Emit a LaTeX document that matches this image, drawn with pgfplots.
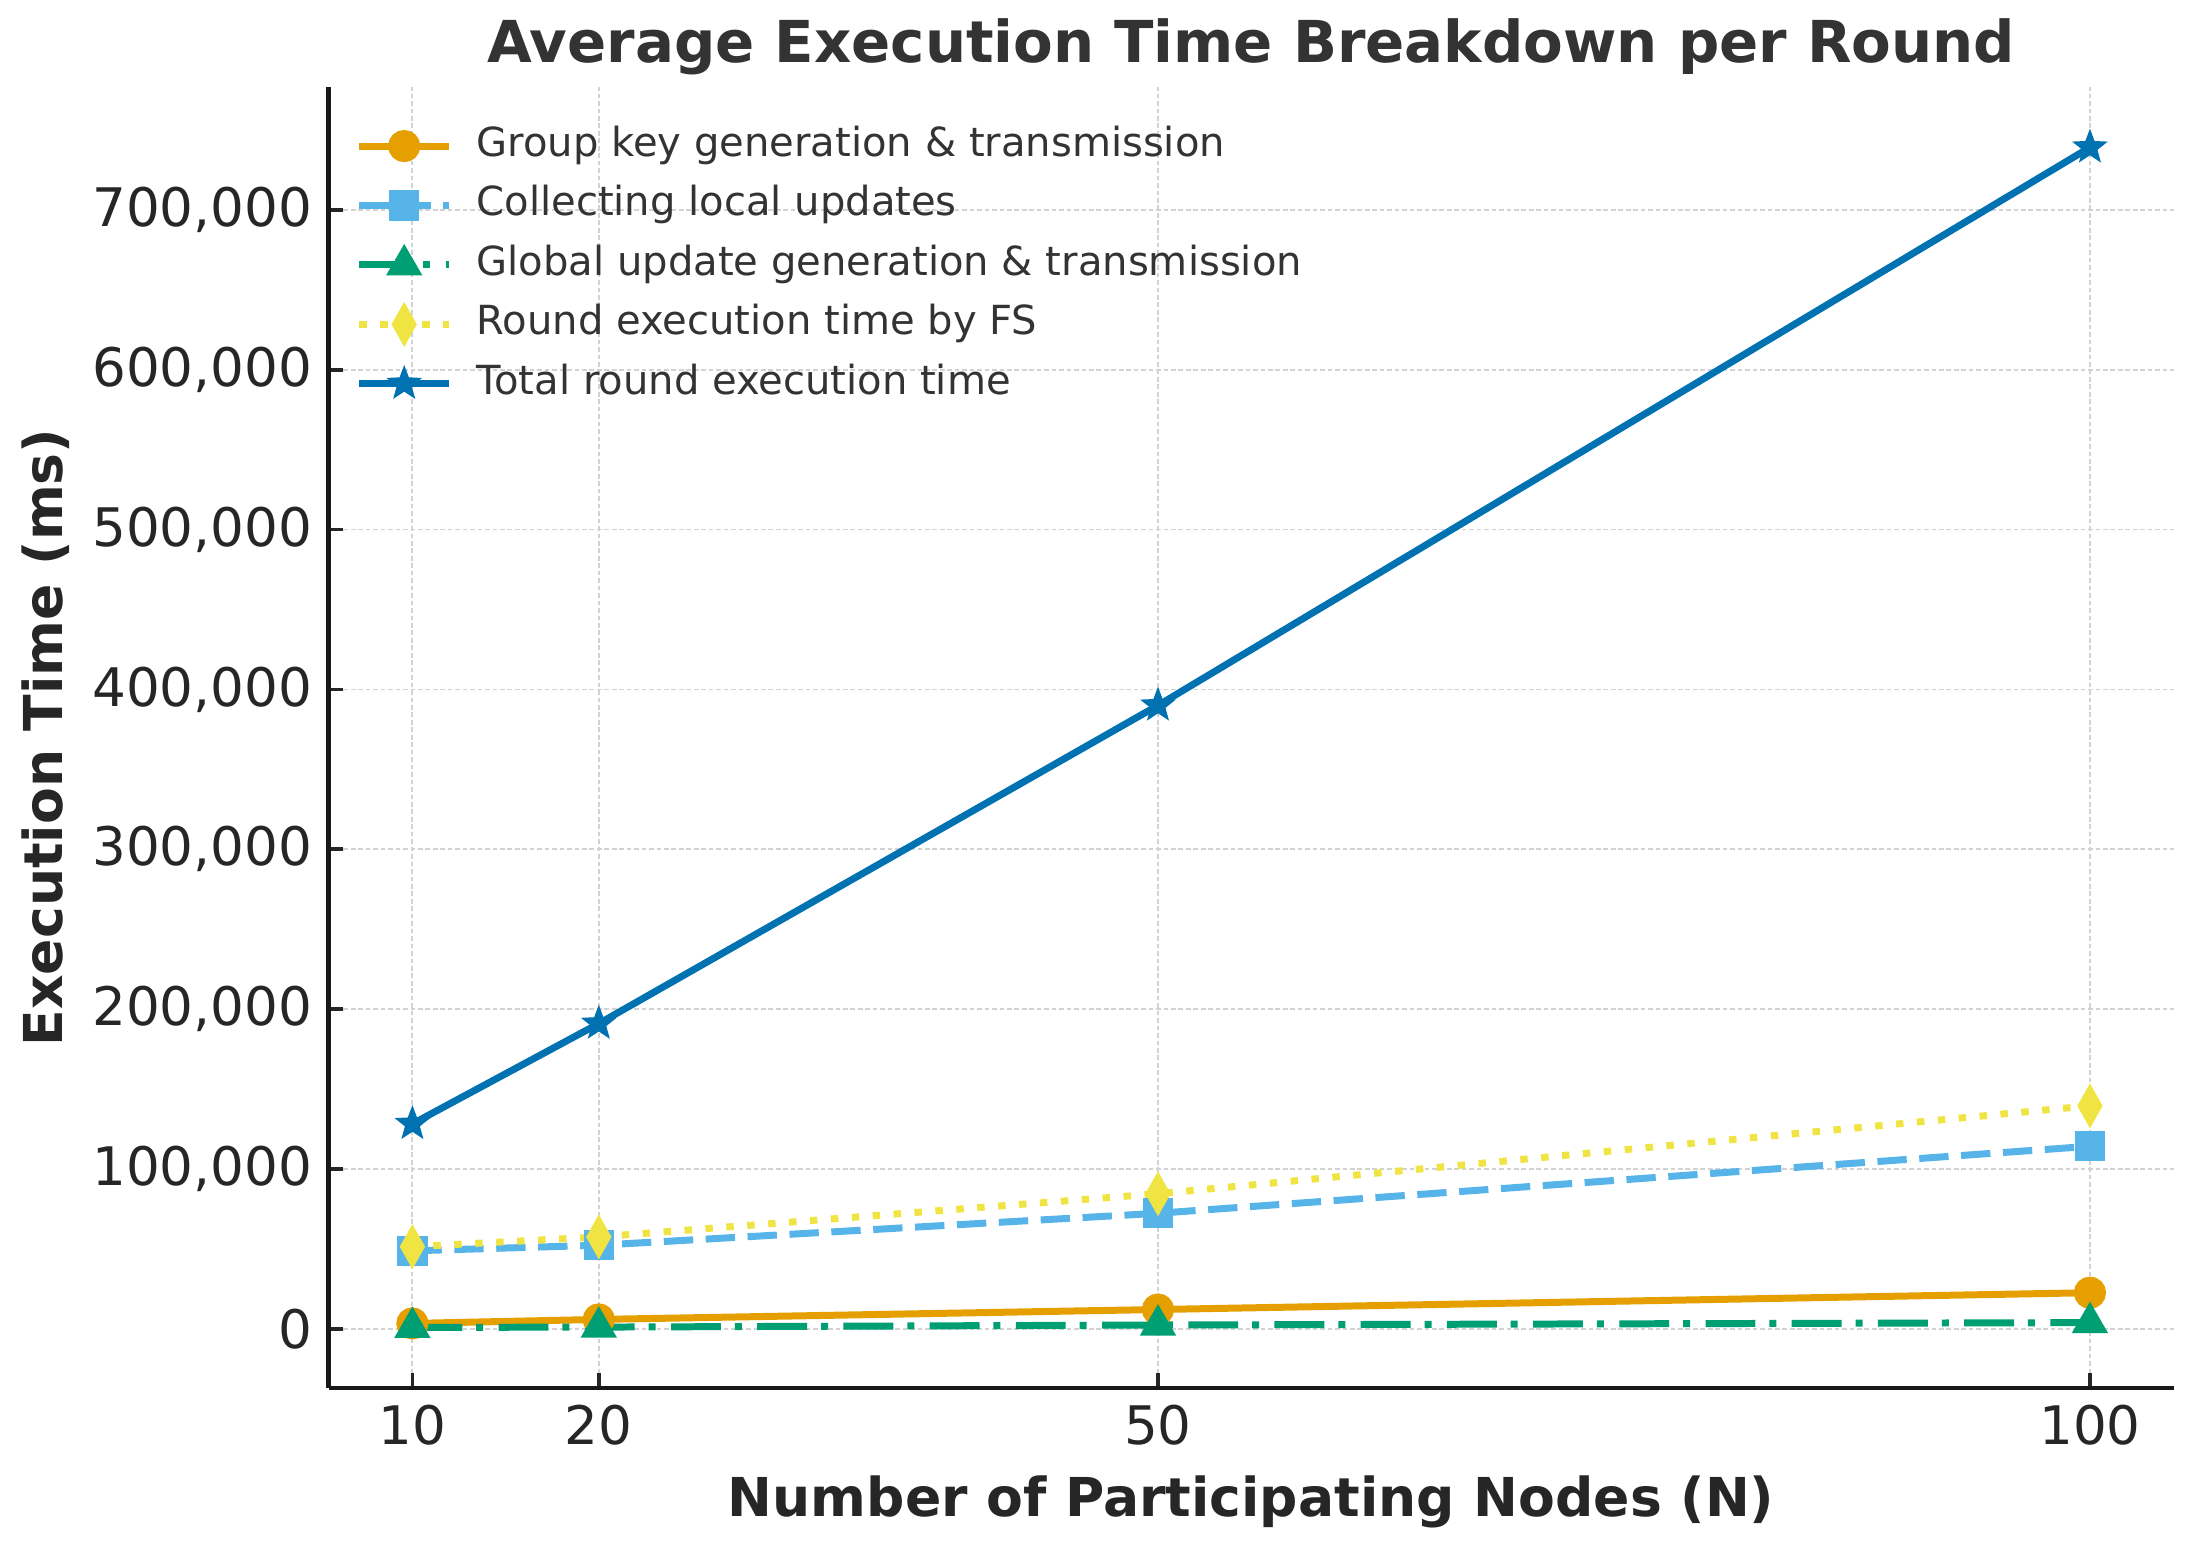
\documentclass[border=0pt]{standalone}
\usepackage{fontspec}
\setmainfont{DejaVu Sans}
\usepackage{pgfplots}
\pgfplotsset{compat=1.18}

\definecolor{cOrange}{HTML}{E69F00}
\definecolor{cSky}{HTML}{56B4E9}
\definecolor{cGreen}{HTML}{009E73}
\definecolor{cYellow}{HTML}{F0E442}
\definecolor{cBlue}{HTML}{0072B2}

% filled five-pointed star
\pgfdeclareplotmark{fstar}{%
  \pgfpathmoveto{\pgfpointpolar{90}{\pgfplotmarksize}}%
  \pgfpathlineto{\pgfpointpolar{126}{0.42\pgfplotmarksize}}%
  \pgfpathlineto{\pgfpointpolar{162}{\pgfplotmarksize}}%
  \pgfpathlineto{\pgfpointpolar{198}{0.42\pgfplotmarksize}}%
  \pgfpathlineto{\pgfpointpolar{234}{\pgfplotmarksize}}%
  \pgfpathlineto{\pgfpointpolar{270}{0.42\pgfplotmarksize}}%
  \pgfpathlineto{\pgfpointpolar{306}{\pgfplotmarksize}}%
  \pgfpathlineto{\pgfpointpolar{342}{0.42\pgfplotmarksize}}%
  \pgfpathlineto{\pgfpointpolar{18}{\pgfplotmarksize}}%
  \pgfpathlineto{\pgfpointpolar{54}{0.42\pgfplotmarksize}}%
  \pgfpathclose\pgfusepathqfillstroke}

\begin{document}
\begin{tikzpicture}
\begin{axis}[
    scale only axis,
    width=396pt, height=279.3pt,
    xmin=5.5, xmax=104.5,
    ymin=-37000, ymax=777000,
    xtick={10,20,50,100},
    ytick={0,100000,...,700000},
    scaled y ticks=false,
    yticklabel style={/pgf/number format/.cd, fixed, 1000 sep={,}},
    /pgf/number format/assume math mode=true,
    tick label style={font=\fontsize{11.4}{13}\selectfont, color=black!85},
    axis x line*=bottom, axis y line*=left,
    axis line style={line width=0.9pt, black!90},
    tick align=inside, major tick length=3.2pt,
    tick style={line width=0.8pt, black!85},
    grid=major,
    grid style={line width=0.4pt, gray!35, dash pattern=on 1pt off 0.6pt},
    every axis title/.style={},
    title={Average Execution Time Breakdown per Round},
    title style={at={(0.5,1.0183)}, anchor=base, font=\bfseries\fontsize{12.4}{14}\selectfont, color=black!80},
    xlabel={Number of Participating Nodes (N)},
    xlabel style={at={(0.5,-0.0988)}, anchor=base, font=\bfseries\fontsize{11.5}{13}\selectfont, color=black!85},
    ylabel={Execution Time (ms)},
    ylabel style={at={(-0.144,0.5)}, anchor=base, font=\bfseries\fontsize{11.5}{13}\selectfont, color=black!85},
    legend cell align=left,
    legend style={draw=none, fill=none, at={(0.0068,0.981)}, anchor=north west,
        font=\fontsize{8.6}{10}\selectfont, text=black!80, row sep=2.25pt,
        nodes={inner sep=1pt, text height=6.5pt, text depth=2pt},
        /tikz/every odd column/.append style={column sep=4.2pt}},
    legend image code/.code={\draw[mark repeat=2, mark phase=2] plot coordinates {(0pt,0pt) (9.6pt,0pt) (19.2pt,0pt)};},
    every axis plot/.append style={line width=1.5pt},
]
    \addplot[cOrange, mark=*, mark size=2.7pt, mark options={solid}]
        coordinates {(10,3500) (20,6000) (50,12200) (100,22700)};
    \addlegendentry{Group key generation \& transmission}

    \addplot[cSky, dash pattern=on 6.3pt off 2.7pt, mark=square*, mark size=2.5pt, mark options={solid}]
        coordinates {(10,48900) (20,52400) (50,72400) (100,114300)};
    \addlegendentry{Collecting local updates}

    \addplot[cGreen, dash pattern=on 10.7pt off 3pt on 1.5pt off 3.3pt, mark=triangle*, mark size=3pt, mark options={solid}]
        coordinates {(10,1000) (20,1200) (50,2500) (100,4000)};
    \addlegendentry{Global update generation \& transmission}

    \addplot[cYellow, dash pattern=on 1.6pt off 2.9pt, mark=diamond*, mark size=3.3pt, mark options={solid, xscale=0.75}]
        coordinates {(10,51500) (20,57600) (50,84600) (100,139600)};
    \addlegendentry{Round execution time by FS}

    \addplot[cBlue, mark=fstar, mark size=3.6pt, mark options={solid, line width=0.3pt}]
        coordinates {(10,128300) (20,191000) (50,390000) (100,739000)};
    \addlegendentry{Total round execution time}
\end{axis}
\pgfresetboundingbox
\path ([shift={(-70.5pt,-33.9pt)}]current axis.south west) rectangle ([shift={(3.9pt,18.6pt)}]current axis.north east);
\end{tikzpicture}
\end{document}
